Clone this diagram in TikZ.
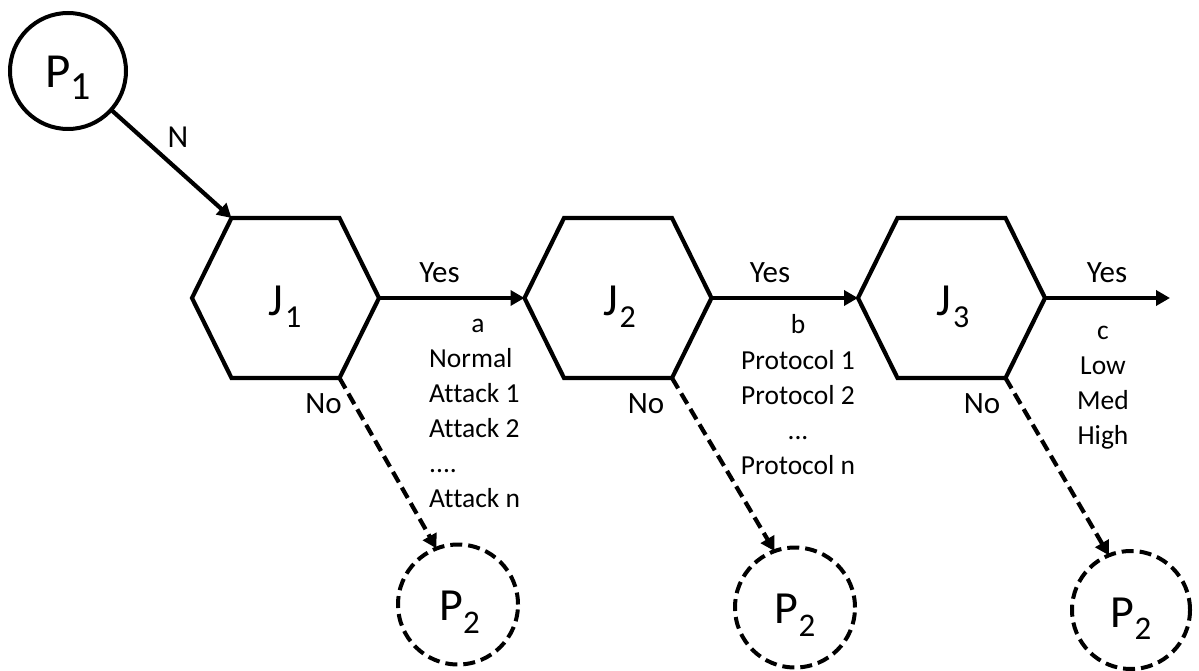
\documentclass[tikz,border=0pt]{standalone}
\usepackage{fontspec}
\setmainfont[Ligatures={NoCommon}]{Carlito}
\usetikzlibrary{arrows.meta}
\newcommand\subtxt[5]{\fontsize{#1}{#1}\selectfont #3\raisebox{-#5pt}{\fontsize{#2}{#2}\selectfont #4}}
\newcommand\myhex[2]{%
  \coordinate (#1-l) at ({#2-93.5},298);
  \coordinate (#1-tl) at ({#2-54},218);
  \coordinate (#1-tr) at ({#2+54},218);
  \coordinate (#1-r) at ({#2+93.5},298);
  \coordinate (#1-br) at ({#2+54},378);
  \coordinate (#1-bl) at ({#2-54},378);
  \draw[hexline] (#1-l) -- (#1-tl) -- (#1-tr) -- (#1-r) -- (#1-br) -- (#1-bl) -- cycle;}
\newcommand\pdot{.\kern0pt}
\begin{document}
\begin{tikzpicture}[x=1pt,y=-1pt,
  hexline/.style={draw, line width=4.2pt, line join=miter},
  proc/.style={circle, draw, line width=4pt, inner sep=0pt, outer sep=0pt, minimum size=#1},
  procd/.style={proc=#1, dash pattern=on 12pt off 6pt},
  arr/.style={line width=4.2pt, -{Triangle[length=14pt,width=15pt]}},
  darr/.style={arr, dash pattern=on 12pt off 6pt},
  lbl/.style={font=\fontsize{31}{31}\selectfont, inner sep=0pt, anchor=base},
  lst/.style={font=\fontsize{27.5}{27.5}\selectfont, inner sep=0pt, anchor=base},
  lstl/.style={lst, anchor=base west},
  tt/.style={inner sep=0pt, anchor=base}]
\useasboundingbox (0,0) rectangle (1199,671);

% process circles
\node[proc=116pt] (P1) at (68,71) {};
\node[procd=120pt] (P2a) at (458,604.5) {};
\node[procd=120pt] (P2b) at (795,607.5) {};
\node[procd=118pt] (P2c) at (1131,610) {};
\node[tt] (P1t) at (68,88) {\subtxt{49}{40}{P}{1}{12}};
\node[tt] (P2at) at (459.5,620) {\subtxt{46}{33}{P}{2}{13}};
\node[tt] (P2bt) at (795,623) {\subtxt{46}{33}{P}{2}{13}};
\node[tt] (P2ct) at (1131,627) {\subtxt{46}{33}{P}{2}{12}};

% hexagons
\myhex{J1}{285.5}
\myhex{J2}{618}
\myhex{J3}{951.5}
\node[tt] (J1t) at (285,315) {\subtxt{46}{32}{J\kern2pt}{1}{12}};
\node[tt] (J2t) at (619.5,315) {\subtxt{46}{32}{J\kern2pt}{2}{12}};
\node[tt] (J3t) at (953,315) {\subtxt{46}{32}{J\kern2pt}{3}{12}};

% connectors
\coordinate (out) at (1170,298);
\draw[arr] (P1) -- (J1-tl);
\draw[arr] (J1-r) -- (J2-l);
\draw[arr] (J2-r) -- (J3-l);
\draw[arr] (J3-r) -- (out);
\draw[darr] (J1-br) -- (P2a.111);
\draw[darr] (J2-br) -- (P2b.110);
\draw[darr] (J3-br) -- (P2c.112);

% labels
\node[lbl, font=\fontsize{32}{32}\selectfont] (N) at (178,148) {N};
\node[lbl] (y1) at (439.5,282) {Yes};
\node[lbl] (y2) at (770,282) {Yes};
\node[lbl] (y3) at (1107,282) {Yes};
\node[lbl] (n1) at (323.5,413) {No};
\node[lbl] (n2) at (646,413) {No};
\node[lbl] (n3) at (982,413) {No};

% lists
\node[lst] (la) at (478,332) {a};
\node[lstl] (la1) at (429,367) {Normal};
\node[lstl] (la2) at (429,402) {Attack 1};
\node[lstl] (la3) at (429,437) {Attack 2};
\node[lstl] (la4) at (429,472) {\pdot\pdot\pdot\pdot};
\node[lstl] (la5) at (429,507) {Attack n};
\node[lst] (lb) at (798,333) {b};
\node[lst] (lb1) at (798,369) {Protocol 1};
\node[lst] (lb2) at (798,404) {Protocol 2};
\node[lst] (lb3) at (798,439) {\pdot\pdot\pdot};
\node[lst] (lb4) at (798,474) {Protocol n};
\node[lst] (lc) at (1103,339) {c};
\node[lst] (lc1) at (1103,374) {Low};
\node[lst] (lc2) at (1103,409) {Med};
\node[lst] (lc3) at (1103,444) {High};
\end{tikzpicture}
\end{document}
